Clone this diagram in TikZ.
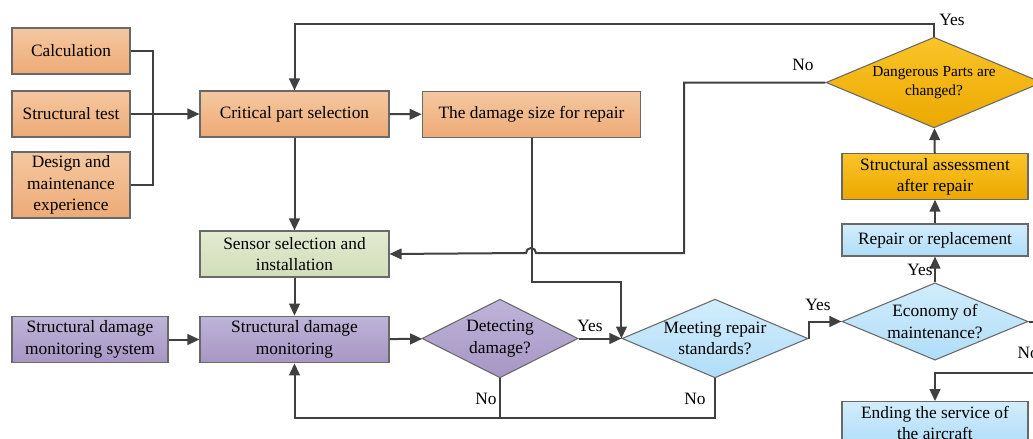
\documentclass[tikz,border=0pt]{standalone}
\usepackage{fontspec}
\setmainfont{Liberation Serif}
\usetikzlibrary{positioning,arrows.meta,shapes.geometric}

\definecolor{boxgray}{RGB}{105,105,105}
\definecolor{linegray}{RGB}{64,64,64}
\definecolor{orangetop}{RGB}{245,200,160}
\definecolor{orangebot}{RGB}{237,170,118}
\definecolor{greentop}{RGB}{226,234,208}
\definecolor{greenbot}{RGB}{210,222,186}
\definecolor{purpletop}{RGB}{190,180,216}
\definecolor{purplebot}{RGB}{166,150,196}
\definecolor{bluetop}{RGB}{210,237,252}
\definecolor{bluebot}{RGB}{176,221,248}
\definecolor{goldtop}{RGB}{250,196,40}
\definecolor{goldbot}{RGB}{236,168,0}

\begin{document}
\begin{tikzpicture}[x=0.75pt,y=-0.75pt,
    font=\fontsize{13}{16}\selectfont,
    box/.style={draw=boxgray,line width=0.8pt,align=center,inner sep=1pt},
    orangebox/.style={box,top color=orangetop,bottom color=orangebot},
    greenbox/.style={box,top color=greentop,bottom color=greenbot},
    purplebox/.style={box,top color=purpletop,bottom color=purplebot},
    bluebox/.style={box,top color=bluetop,bottom color=bluebot},
    goldbox/.style={box,top color=goldtop,bottom color=goldbot},
    decision/.style={diamond,draw=boxgray,line width=0.8pt,align=center,inner sep=0pt,aspect=2.35},
    link/.style={draw=linegray,line width=1.5pt},
    arr/.style={link,-{Triangle[length=9pt,width=8pt]}},
    lbl/.style={inner sep=1pt}
  ]
    \useasboundingbox (0,0) rectangle (1033,439);
    \clip (0,0) rectangle (1033,439);

    % inputs on the left
    \node[orangebox,minimum width=88.5pt,minimum height=34.5pt] (calc) at (71,51) {Calculation};
    \node[orangebox,minimum width=88.5pt,minimum height=34.5pt] (test) at (71,114) {Structural test};
    \node[orangebox,minimum width=88.5pt,minimum height=49.5pt] (exper) at (71,185) {Design and\\maintenance\\experience};

    % main column
    \node[orangebox,minimum width=141.75pt,minimum height=34.5pt] (critical) at (294.5,114) {Critical part selection};
    \node[orangebox,minimum width=164pt,minimum height=35pt] (dmgsize) at (531.5,114.5) {The damage size for repair};
    \node[greenbox,minimum width=141.75pt,minimum height=34.5pt] (sensor) at (294.5,254) {Sensor selection and\\installation};
    \node[purplebox,minimum width=141.75pt,minimum height=35pt] (monitor) at (294.5,339.5) {Structural damage\\monitoring};
    \node[purplebox,minimum width=117pt,minimum height=35pt] (monsys) at (90,339.5) {Structural damage\\monitoring system};

    % decisions
    \node[decision,aspect=1.97,top color=purpletop,bottom color=purplebot,minimum width=117pt,minimum height=59pt] (detect) at (500,338.5) {Detecting\\damage?};
    \node[decision,top color=bluetop,bottom color=bluebot,minimum width=139.5pt,minimum height=59pt] (meet) at (715,338.5) {Meeting repair\\standards?};
    \node[decision,aspect=2.4,top color=bluetop,bottom color=bluebot,minimum width=139.5pt,minimum height=58pt] (economy) at (935,321.5) {Economy of\\maintenance?};
    \node[decision,aspect=2.37,top color=goldtop,bottom color=goldbot,minimum width=162pt,minimum height=68pt,font=\fontsize{11.5}{14}\selectfont] (danger) at (934,82.5) {Dangerous Parts are\\changed?};

    % repair branch
    \node[bluebox,minimum width=139.5pt,minimum height=24pt] (repair) at (935,240) {Repair or replacement};
    \node[goldbox,minimum width=139.5pt,minimum height=34pt] (assess) at (935,176.5) {Structural assessment\\after repair};
    \node[bluebox,minimum width=139.5pt,minimum height=32pt] (ending) at (935,423) {Ending the service of\\the aircraft};

    \coordinate (merge) at (153,114);
    \coordinate (nobend) at (684,253);
    \coordinate (offright) at (1045,373);

    % inputs merge into the selection
    \draw[link] (calc.east) -| (merge);
    \draw[link] (exper.east) -| (merge);
    \draw[arr] (test.east) -- (critical.west);

    \draw[arr] (critical) -- (dmgsize);
    \draw[arr] (critical) -- (sensor);
    \draw[arr] (sensor) -- (monitor);
    \draw[arr] (monsys) -- (monitor);
    \draw[arr] (monitor) -- (detect);
    \draw[arr] (detect) -- (meet);
    \draw[arr] (dmgsize.south) -- (dmgsize.south |- 0,282) -| (meet.west);

    % no damage / not meeting standards
    \draw[link] (detect.south) -- (detect.south |- 0,418);
    \draw[arr] (meet.south) -- (meet.south |- 0,418) -| (monitor.south);

    \draw[arr] (meet.east) |- (economy.west);
    \draw[arr] (economy) -- (repair);
    \draw[arr] (repair) -- (assess);
    \draw[arr] (assess) -- (danger);
    \draw[arr] (economy.east) -| (offright) -| (ending.north);

    % back to the start, or to the sensors (with a hop)
    \draw[arr] (danger.north) -- (danger.north |- 0,24) -| (critical.north);
    \draw[arr] (danger.west) -| (nobend) -- ++(-148,0)
      arc[start angle=0,end angle=-180,radius=5] -- (sensor.east);

    % branch labels
    \node[lbl] (yestop) at (952,20) {Yes};
    \node[lbl] (notop) at (803,65) {No};
    \node[lbl] (yesdet) at (590,326) {Yes};
    \node[lbl] (nodet) at (486,399) {No};
    \node[lbl] (nomeet) at (695,399) {No};
    \node[lbl] (yesmeet) at (818,305) {Yes};
    \node[lbl] (yeseco) at (920,270) {Yes};
    \node[lbl,anchor=west] (noeco) at (1016,353) {No};
\end{tikzpicture}
\end{document}
